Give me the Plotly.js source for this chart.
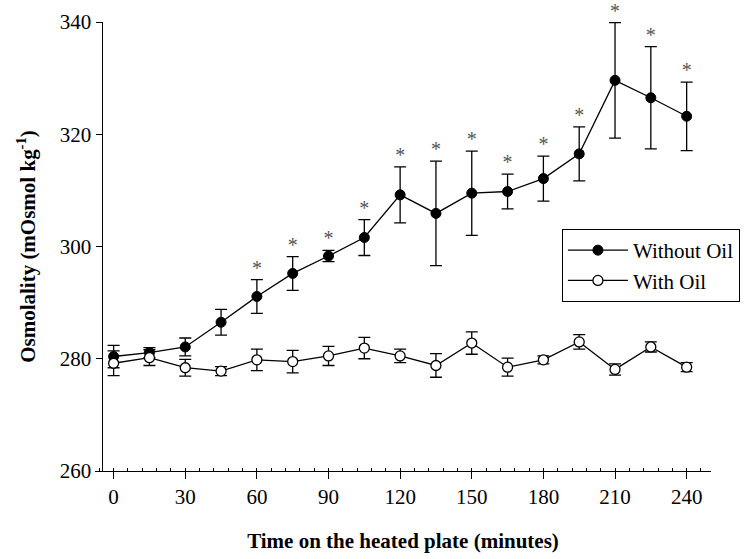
<!DOCTYPE html>
<html>
<head>
<meta charset="utf-8">
<script src="https://cdn.plot.ly/plotly-3.0.1.min.js"></script>
<style>html,body{margin:0;padding:0;background:#fff}#chart{width:752px;height:559px}</style>
</head>
<body>
<div id="chart"></div>
<script>
const times = [0, 15, 30, 45, 60, 75, 90, 105, 120, 135, 150, 165, 180, 195, 210, 225, 240];
const withoutOil = [280.4, 281.1, 282.1, 286.5, 291.1, 295.2, 298.3, 301.6, 309.2, 305.9, 309.5, 309.8, 312.1, 316.5, 329.6, 326.5, 323.2];
const withoutOilErr = [2.0, 0.9, 1.6, 2.3, 3.0, 3.0, 1.0, 3.2, 5.0, 9.3, 7.5, 3.1, 4.0, 4.8, 10.3, 9.1, 6.1];
const withOil = [279.2, 280.2, 278.4, 277.8, 279.8, 279.5, 280.5, 281.9, 280.5, 278.8, 282.8, 278.5, 279.8, 283.0, 278.1, 282.1, 278.5];
const withOilErr = [2.2, 1.4, 1.5, 0.8, 1.9, 2.0, 1.7, 1.9, 1.2, 2.1, 2.0, 1.6, 0.7, 1.3, 1.0, 0.9, 0.8];
const significant = [false, false, false, false, true, true, true, true, true, true, true, true, true, true, true, true, true];
const xTicks = [0, 30, 60, 90, 120, 150, 180, 210, 240];
const yTicks = [260, 280, 300, 320, 340];

const font = 'Liberation Serif, Times New Roman, serif';
const fs = 21;

const starX = [], starY = [];
times.forEach((t, i) => { if (significant[i]) { starX.push(t); starY.push(withoutOil[i] + withoutOilErr[i]); } });

const traces = [
  {
    x: times, y: withoutOil, name: 'Without Oil', type: 'scatter', mode: 'lines+markers',
    line: {color: '#000', width: 1.3},
    marker: {symbol: 'circle', size: 10, color: '#000', line: {color: '#000', width: 1}},
    error_y: {type: 'data', array: withoutOilErr, visible: true, color: '#000', thickness: 1.3, width: 6}
  },
  {
    x: times, y: withOil, name: 'With Oil', type: 'scatter', mode: 'lines+markers',
    line: {color: '#000', width: 1.3},
    marker: {symbol: 'circle', size: 10, color: '#fff', line: {color: '#000', width: 1.3}},
    error_y: {type: 'data', array: withOilErr, visible: true, color: '#000', thickness: 1.3, width: 6}
  },
  {
    x: starX, y: starY, type: 'scatter', mode: 'text', text: starX.map(() => '*'),
    textposition: 'top center', textfont: {family: font, size: 20, color: '#555'},
    marker: {size: 0},
    cliponaxis: false, showlegend: false, hoverinfo: 'skip'
  }
];

const layout = {
  width: 752, height: 559,
  margin: {l: 95, r: 25, t: 22, b: 88},
  paper_bgcolor: '#fff', plot_bgcolor: '#fff',
  font: {family: font, size: fs, color: '#000'},
  showlegend: true,
  legend: {
    x: 0.758, y: 0.539, xanchor: 'left', yanchor: 'top',
    bordercolor: '#000', borderwidth: 1, bgcolor: '#fff',
    font: {family: font, size: fs, color: '#000'},
    itemwidth: 60
  },
  xaxis: {
    range: [-7.8, 250.2], tickvals: xTicks, ticktext: xTicks.map(String),
    showgrid: false, zeroline: false, showline: true, linecolor: '#000', linewidth: 1,
    ticks: 'outside', ticklen: 7, tickwidth: 1, tickcolor: '#000',
    minor: {dtick: 6, tick0: 0, ticks: 'inside', ticklen: 3, tickwidth: 1, tickcolor: '#000', showgrid: false},
    tickfont: {family: font, size: fs},
    title: {text: '<b>Time on the heated plate (minutes)</b>', font: {family: font, size: fs}, standoff: 25}
  },
  yaxis: {
    range: [260, 340], tickvals: yTicks, ticktext: yTicks.map(String),
    anchor: 'free', position: 0.0106,
    showgrid: false, zeroline: false, showline: true, linecolor: '#000', linewidth: 1,
    ticks: 'outside', ticklen: 6, tickwidth: 1, tickcolor: '#000',
    tickfont: {family: font, size: fs},
    title: {text: '<b>Osmolality (mOsmol kg<sup>-1</sup>)</b>', font: {family: font, size: fs}, standoff: 17}
  }
};

Plotly.newPlot('chart', traces, layout, {displayModeBar: false, staticPlot: true});
</script>
</body>
</html>
